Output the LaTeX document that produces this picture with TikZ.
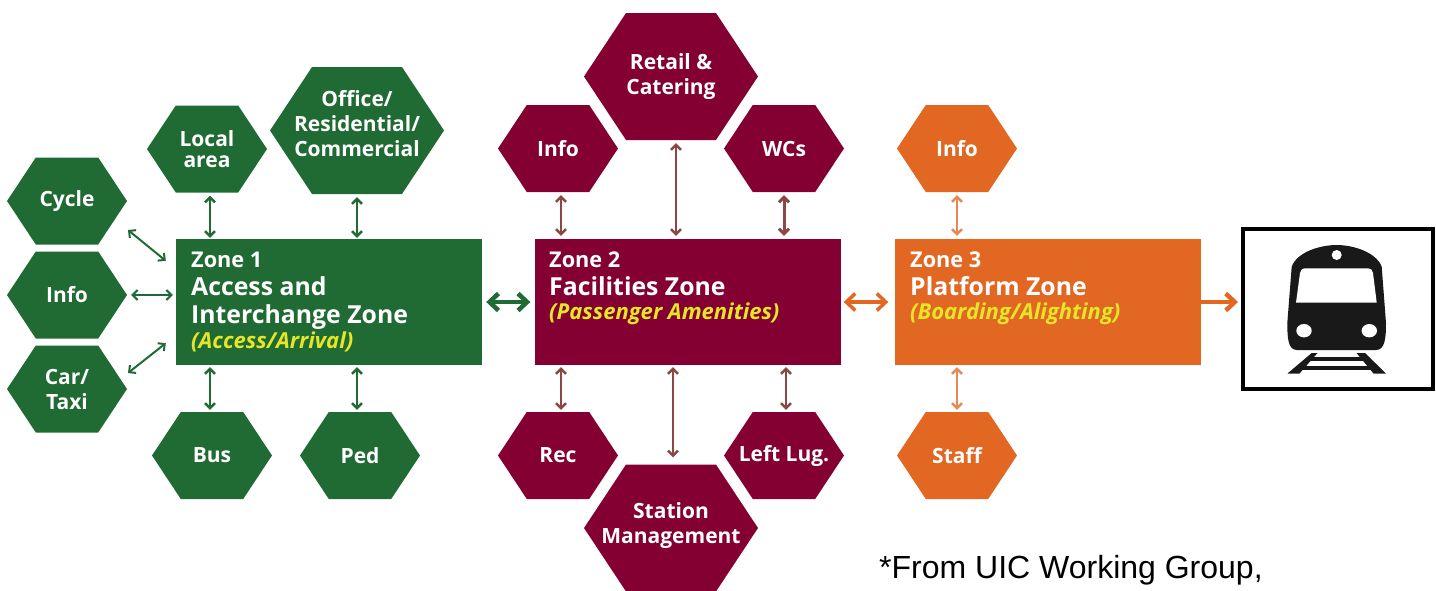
\documentclass[tikz,border=0pt]{standalone}
\usepackage{fontspec}
\setmainfont{Open Sans}
\newfontfamily\notefont{Liberation Sans}
\usetikzlibrary{shapes.symbols,arrows.meta}
\definecolor{zone_green}{HTML}{206A33}
\definecolor{zone_red}{HTML}{840032}
\definecolor{zone_orange}{HTML}{E16723}
\definecolor{link_red}{HTML}{8C4644}
\definecolor{link_orange}{HTML}{E58A55}
\definecolor{text_yellow}{HTML}{E6E628}
\tikzstyle{hex_base} = [signal, signal to=east and west, signal pointer angle=113, text=white, align=center, font=\bfseries\fontsize{21}{25}\selectfont]
\tikzstyle{hex_small} = [hex_base, inner xsep=-30pt, inner ysep=-10pt, minimum width=120pt, minimum height=87pt]
\tikzstyle{hex_big} = [hex_base, inner xsep=-60pt, inner ysep=-30pt, minimum width=174pt, minimum height=127pt]
\tikzstyle{zone_box} = [rectangle, inner sep=0pt, minimum width=306pt, minimum height=126pt]
\tikzstyle{zone_text} = [anchor=north west, inner sep=0pt, align=left, text=white, font=\bfseries\fontsize{24.8}{28}\selectfont]
\tikzstyle{link_thin} = [{Straight Barb[length=5pt,width=10pt]}-{Straight Barb[length=5pt,width=10pt]}, line width=2.4pt]
\tikzstyle{link_diag} = [link_thin, line width=2pt]
\tikzstyle{link_thick} = [{Straight Barb[length=9pt,width=17pt]}-{Straight Barb[length=9pt,width=17pt]}, line width=4.5pt]
\newcommand{\subline}[1]{{\color{text_yellow}\fontsize{22}{20}\selectfont\itshape #1}}
\newcommand{\smallline}[1]{{\fontsize{21.7}{20}\selectfont #1}}

\begin{document}
\begin{tikzpicture}[x=1pt,y=-1pt]
	\useasboundingbox (0,0) rectangle (1436,590);
	% access hexagons
	\node (CY) at (67,201) [hex_small,fill=zone_green] {Cycle};
	\node (IA) at (67,295) [hex_small,fill=zone_green] {Info};
	\node (CT) at (67,389) [hex_small,fill=zone_green] {Car/\\Taxi};
	\node (LA) at (207,149) [hex_small,fill=zone_green] {Local\\[-4pt]area};
	\node (OF) at (357,130.5) [hex_big,fill=zone_green] {Office/\\Residential/\\Commercial\\[-10pt]};
	\node (BU) at (212,455.5) [hex_small,fill=zone_green] {Bus};
	\node (PE) at (360,455.5) [hex_small,fill=zone_green] {Ped};
	% facilities hexagons
	\node (RC) at (671,76.5) [hex_big,fill=zone_red] {Retail \&\\Catering};
	\node (IF) at (558,148.5) [hex_small,fill=zone_red] {Info};
	\node (WC) at (784,148.5) [hex_small,fill=zone_red] {WCs};
	\node (RE) at (558,455.5) [hex_small,fill=zone_red] {Rec};
	\node (LL) at (784,455.5) [hex_small,fill=zone_red] {Left Lug.};
	\node (SM) at (671,528) [hex_big,fill=zone_red] {Station\\Management\\[-16pt]};
	% platform hexagons
	\node (IP) at (957,148.5) [hex_small,fill=zone_orange] {Info};
	\node (ST) at (957,455.5) [hex_small,fill=zone_orange] {Staff};
	% zones
	\node (Z1) at (329,302) [zone_box,fill=zone_green] {};
	\node (Z2) at (687.5,302) [zone_box,fill=zone_red] {};
	\node (Z3) at (1047.5,302) [zone_box,fill=zone_orange] {};
	\node (Z1T) at (191,252) [zone_text] {\smallline{Zone 1}\\Access and\\Interchange Zone\\[-3pt]\subline{(Access/Arrival)}};
	\node (Z2T) at (549,252) [zone_text] {\smallline{Zone 2}\\Facilities Zone\\[-4pt]\subline{(Passenger Amenities)}};
	\node (Z3T) at (910,252) [zone_text] {\smallline{Zone 3}\\Platform Zone\\[-4pt]\subline{(Boarding/Alighting)}};
	% train
	\node (TB) at (1338,309) [rectangle, draw=black, line width=4pt, inner sep=0pt, minimum width=190pt, minimum height=160pt] {};
	\fill[black!90] (1291.7,266.7) .. controls (1297,252) and (1320,245) .. (1336.7,245) .. controls (1353,245) and (1376,252) .. (1381.7,266.7) -- (1386,323) .. controls (1386,338) and (1385,350) .. (1376,350) -- (1297,350) .. controls (1288,350) and (1287.3,338) .. (1287.3,323) -- cycle;
	\fill[white] (1306,268.3) -- (1368,268.3) .. controls (1371,268.3) and (1372.5,270) .. (1373,273) -- (1376.7,302.7) -- (1296,302.7) -- (1300,273) .. controls (1300.5,270) and (1302,268.3) .. (1306,268.3) -- cycle;
	\fill[white] (1336.7,255) circle (5);
	\fill[white] (1304,330.7) ellipse (7.7 and 6.7);
	\fill[white] (1369.3,330.7) ellipse (7.7 and 6.7);
	\fill[black!90] (1311.7,353) -- (1317.5,353) -- (1299.5,373.5) -- (1287.5,373.5) -- cycle;
	\fill[black!90] (1356.5,353) -- (1365,353) -- (1386,373.5) -- (1373.5,373.5) -- cycle;
	\fill[black!90] (1307,357) rectangle (1366,360.5);
	\fill[black!90] (1297,366) rectangle (1376,369.5);
	% links
	\draw[link_thin,zone_green,shorten <=3pt,shorten >=1pt] ([xshift=3pt]LA.south) -- ([xshift=3pt]LA.south |- Z1.north);
	\draw[link_thin,zone_green,shorten <=3pt,shorten >=1pt] (OF.south) -- (OF.south |- Z1.north);
	\draw[link_thin,zone_green,shorten <=2pt,shorten >=2pt] ([xshift=-2pt]BU.north |- Z1.south) -- ([xshift=-2pt]BU.north);
	\draw[link_thin,zone_green,shorten <=2pt,shorten >=2pt] ([xshift=-3pt]PE.north |- Z1.south) -- ([xshift=-3pt]PE.north);
	\draw[link_diag,zone_green,shorten <=4pt,shorten >=3pt] (IA.east) -- (IA.east -| Z1.west);
	\draw[link_diag,zone_green] ([xshift=61pt,yshift=-29pt]CY.center) -- ([xshift=-10pt,yshift=-22pt]Z1.north west);
	\draw[link_diag,zone_green] ([xshift=61pt,yshift=16pt]CT.center) -- ([xshift=-10pt,yshift=22pt]Z1.south west);
	\draw[link_thick,zone_green,shorten <=4pt,shorten >=4pt] (Z1.east) -- (Z2.west);
	\draw[link_thin,link_red,shorten <=3pt,shorten >=3pt] ([xshift=3pt]IF.south) -- ([xshift=3pt]IF.south |- Z2.north);
	\draw[link_thin,link_red,shorten <=3pt,shorten >=3pt] ([xshift=5pt]RC.south) -- ([xshift=5pt]RC.south |- Z2.north);
	\draw[link_thin,link_red,line width=3pt,shorten <=3pt,shorten >=3pt] (WC.south) -- (WC.south |- Z2.north);
	\draw[link_thin,link_red,shorten <=2pt,shorten >=2pt] ([xshift=3pt]RE.north |- Z2.south) -- ([xshift=3pt]RE.north);
	\draw[link_thin,link_red,shorten <=2pt,shorten >=7pt] ([xshift=2pt]SM.north |- Z2.south) -- ([xshift=2pt]SM.north);
	\draw[link_thin,link_red,shorten <=2pt,shorten >=2pt] ([xshift=2pt]LL.north |- Z2.south) -- ([xshift=2pt]LL.north);
	\draw[link_thick,line width=3.5pt,zone_orange,shorten <=3pt,shorten >=6pt] (Z2.east) -- (Z3.west);
	\draw[link_thin,link_orange,shorten <=3pt,shorten >=3pt] (IP.south) -- (IP.south |- Z3.north);
	\draw[link_thin,link_orange,shorten <=2pt,shorten >=2pt] (ST.north |- Z3.south) -- (ST.north);
	\draw[-{Straight Barb[length=9pt,width=17pt]},line width=4.5pt,zone_orange,shorten >=3pt] (Z3.east) -- (Z3.east -| TB.west);
	% note
	\node (NT) at (879,570) [anchor=west, inner sep=0pt, font=\notefont\fontsize{32}{32}\selectfont] {*From UIC Working Group,};
\end{tikzpicture}
\end{document}
